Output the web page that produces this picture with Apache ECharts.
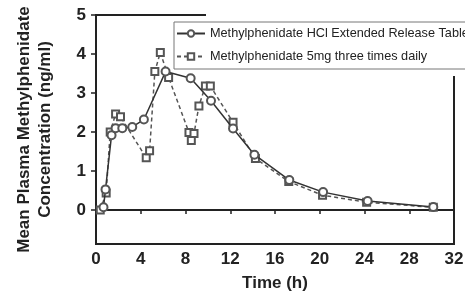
<!DOCTYPE html>
<html>
<head>
<meta charset="utf-8">
<script src="https://cdn.jsdelivr.net/npm/echarts@6/dist/echarts.min.js"></script>
<style>
  html, body { margin: 0; padding: 0; background: #fff; }
  #main { width: 465px; height: 293px; }
</style>
</head>
<body>
<div id="main"></div>
<script>
// time (h) / concentration (ng/ml)
const erTime = [0.67, 0.85, 1.39, 1.75, 2.35, 3.24, 4.28, 6.22, 8.46, 10.28, 12.25, 14.16, 17.28, 20.3, 24.28, 30.15];
const erConc = [0.07, 0.53, 1.92, 2.1, 2.1, 2.13, 2.32, 3.55, 3.38, 2.8, 2.09, 1.42, 0.77, 0.46, 0.23, 0.08];
const tidTime = [0.38, 0.91, 1.27, 1.75, 2.19, 4.49, 4.79, 5.26, 5.75, 6.49, 8.31, 8.52, 8.76, 9.2, 9.78, 10.22, 12.25, 14.25, 17.23, 20.25, 24.19, 30.15];
const tidConc = [0.0, 0.44, 2.0, 2.46, 2.39, 1.34, 1.52, 3.55, 4.04, 3.4, 1.99, 1.78, 1.96, 2.67, 3.18, 3.18, 2.25, 1.32, 0.73, 0.38, 0.2, 0.07];
const xTicks = [0, 4, 8, 12, 16, 20, 24, 28, 32];
const yTicks = [0, 1, 2, 3, 4, 5];
const seriesNames = ["Methylphenidate HCl Extended Release Tablets", "Methylphenidate 5mg three times daily"];

const pair = (xs, ys) => xs.map((x, i) => [x, ys[i]]);

let mycharts = echarts.init(document.getElementById("main"));
mycharts.setOption({
  animation: false,
  textStyle: { fontFamily: "Liberation Sans, Arial, sans-serif" },
  grid: {
    left: 96, right: 11, top: 15, bottom: 49,
    outerBoundsMode: "none",
    show: true, borderColor: "#222", borderWidth: 2, backgroundColor: "transparent"
  },
  legend: {
    orient: "vertical",
    left: 174, top: 22,
    padding: [5, 6, 6, 2],
    itemGap: 10,
    itemWidth: 28, itemHeight: 8,
    borderColor: "#777", borderWidth: 1,
    backgroundColor: "#fff",
    textStyle: { fontFamily: "Liberation Sans, Arial", fontSize: 12.7, color: "#222" },
    data: seriesNames
  },
  graphic: [{
    type: "rect", z: 1,
    shape: { x: 206, y: 0, width: 260, height: 76 },
    style: { fill: "#fff" }
  }],
  xAxis: {
    type: "value", min: 0, max: 32, interval: 4,
    name: "Time (h)", nameLocation: "middle", nameGap: 31,
    nameTextStyle: { fontSize: 17, fontWeight: "bold", color: "#222" },
    splitLine: { show: false },
    axisLine: { lineStyle: { color: "#222", width: 2 } },
    axisTick: { show: true, length: 4, lineStyle: { color: "#222", width: 1.5 } },
    axisLabel: { fontSize: 17, fontWeight: "bold", color: "#222", margin: 7,
      customValues: xTicks }
  },
  yAxis: {
    type: "value", min: -0.87, max: 5,
    name: "Mean Plasma Methylphenidate\nConcentration (ng/ml)",
    nameLocation: "middle", nameGap: 40,
    nameTextStyle: { fontSize: 17, fontWeight: "bold", color: "#222", lineHeight: 21 },
    splitLine: { show: false },
    axisLine: { lineStyle: { color: "#222", width: 2 } },
    axisTick: { show: true, length: 5, lineStyle: { color: "#222", width: 1.5 }, customValues: yTicks },
    axisLabel: { fontSize: 17, fontWeight: "bold", color: "#222", margin: 10, customValues: yTicks }
  },
  series: [
    {
      name: seriesNames[0], type: "line", z: 3,
      data: pair(erTime, erConc),
      symbol: "emptyCircle", symbolSize: 8,
      lineStyle: { color: "#333", width: 1.5 },
      itemStyle: { color: "#555", borderColor: "#555", borderWidth: 1.2 }
    },
    {
      name: seriesNames[1], type: "line", z: 2,
      data: pair(tidTime, tidConc),
      symbol: "emptyRect", symbolSize: 7,
      lineStyle: { color: "#555", width: 1.5, type: [4, 3] },
      itemStyle: { color: "#555", borderColor: "#555", borderWidth: 1.2 }
    }
  ]
});
</script>
</body>
</html>
